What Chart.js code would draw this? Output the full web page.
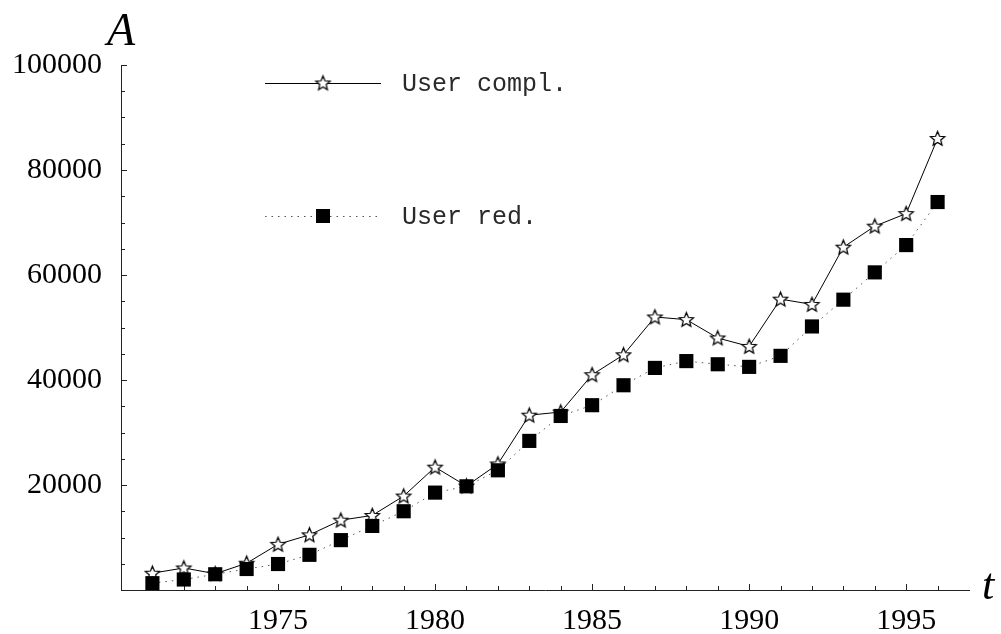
<!DOCTYPE html>
<html>
<head>
<meta charset="utf-8">
<script src="https://cdn.jsdelivr.net/npm/chart.js@4.4.1/dist/chart.umd.min.js"></script>
<style>
  html, body { margin: 0; padding: 0; background: #fff; }
  #wrap { width: 1001px; height: 634px; }
</style>
</head>
<body>
<div id="wrap"><canvas id="chart" width="1001" height="634"></canvas></div>
<script>
// === Data ===
const years = [1971, 1972, 1973, 1974, 1975, 1976, 1977, 1978, 1979, 1980, 1981, 1982, 1983,
               1984, 1985, 1986, 1987, 1988, 1989, 1990, 1991, 1992, 1993, 1994, 1995, 1996];
const userCompl = [3200, 4200, 3100, 5100, 8700, 10500, 13300, 14200, 17900, 23400, 19800, 24000, 33300,
                   33900, 41000, 44800, 52000, 51500, 48000, 46400, 55400, 54400, 65300, 69300, 71700, 86000];
const userRed = [1300, 2000, 3000, 4000, 4950, 6700, 9500, 12200, 15000, 18550, 19750, 22800, 28400,
                 33150, 35200, 39000, 42300, 43600, 43000, 42500, 44600, 50200, 55300, 60500, 65700, 73900];
const xTickLabels = [1975, 1980, 1985, 1990, 1995];
const yTickLabels = [20000, 40000, 60000, 80000, 100000];
const seriesNames = ['User compl.', 'User red.'];

const SERIF = "'Liberation Serif', 'DejaVu Serif', serif";
const MONO = "'Liberation Mono', 'DejaVu Sans Mono', monospace";
const AXIS = '#222';

// open star marker
function makeStar(r) {
  const s = Math.ceil(2 * r + 4);
  const c = document.createElement('canvas');
  c.width = s; c.height = s;
  const g = c.getContext('2d');
  g.translate(s / 2, s / 2 + 0.5);
  g.beginPath();
  for (let i = 0; i < 10; i++) {
    const a = -Math.PI / 2 + i * Math.PI / 5;
    const rr = i % 2 ? r * 0.45 : r;
    g.lineTo(rr * Math.cos(a), rr * Math.sin(a));
  }
  g.closePath();
  g.fillStyle = '#fff';
  g.fill();
  g.lineWidth = 1.25;
  g.strokeStyle = '#000';
  g.stroke();
  return c;
}
const starImg = makeStar(7.5);

const toPoints = arr => years.map((y, i) => ({ x: y, y: arr[i] }));

// tick marks drawn inside, plus legend and axis letters
const decor = {
  id: 'decor',
  beforeDatasetsDraw(chart) {
    const { ctx, scales: { x, y } } = chart;
    ctx.save();
    ctx.strokeStyle = AXIS;
    ctx.lineWidth = 1;
    ctx.beginPath();
    x.ticks.forEach(t => {
      if (t.value <= x.min || t.value >= x.max) return;
      const px = Math.round(x.getPixelForValue(t.value)) + 0.5;
      const len = t.value % 5 === 0 ? 6 : 4;
      ctx.moveTo(px, y.bottom);
      ctx.lineTo(px, y.bottom - len);
    });
    y.ticks.forEach(t => {
      if (t.value <= y.min) return;
      const py = Math.round(y.getPixelForValue(t.value)) + 0.5;
      const len = t.value % 20000 === 0 ? 6 : 4;
      ctx.moveTo(x.left, py);
      ctx.lineTo(x.left + len, py);
    });
    ctx.stroke();
    ctx.restore();
  },
  afterDraw(chart) {
    const { ctx, chartArea: a } = chart;
    ctx.save();
    // axis letters
    ctx.fillStyle = '#000';
    ctx.font = 'italic 46px ' + SERIF;
    ctx.textAlign = 'left';
    ctx.textBaseline = 'alphabetic';
    ctx.fillText('A', a.left - 14, 45);
    ctx.font = 'italic 44px ' + SERIF;
    ctx.fillText('t', a.right + 13, a.bottom + 9);

    // legend
    const lx0 = a.left + 144, lx1 = a.left + 260, mx = a.left + 202;
    const rows = [a.top + 18, a.top + 151];
    ctx.lineWidth = 1;
    ctx.strokeStyle = '#000';
    ctx.beginPath();
    ctx.moveTo(lx0, rows[0] + 0.5);
    ctx.lineTo(lx1, rows[0] + 0.5);
    ctx.stroke();
    ctx.drawImage(starImg, mx - starImg.width / 2, rows[0] - starImg.height / 2);

    ctx.strokeStyle = '#555';
    ctx.setLineDash([1.5, 5]);
    ctx.beginPath();
    ctx.moveTo(lx0, rows[1] + 0.5);
    ctx.lineTo(lx1, rows[1] + 0.5);
    ctx.stroke();
    ctx.setLineDash([]);
    ctx.fillStyle = '#000';
    ctx.fillRect(mx - 7, rows[1] - 7, 14, 14);

    ctx.fillStyle = '#2a2a2a';
    ctx.font = '25px ' + MONO;
    ctx.textBaseline = 'middle';
    seriesNames.forEach((n, i) => ctx.fillText(n, lx1 + 21, rows[i] + 1));
    ctx.restore();
  }
};

const ctx = document.getElementById('chart').getContext('2d');
new Chart(ctx, {
  type: 'line',
  data: {
    datasets: [
      {
        label: seriesNames[1],
        data: toPoints(userRed),
        borderColor: '#555',
        borderWidth: 1,
        borderDash: [1.5, 5],
        pointStyle: 'rect',
        pointRadius: 10,
        pointBorderWidth: 0,
        pointBackgroundColor: '#000',
        tension: 0,
        fill: false,
        order: 0
      },
      {
        label: seriesNames[0],
        data: toPoints(userCompl),
        borderColor: '#000',
        borderWidth: 1,
        pointStyle: starImg,
        pointRadius: 8,
        tension: 0,
        fill: false,
        order: 1
      }
    ]
  },
  options: {
    responsive: false,
    animation: false,
    events: [],
    layout: { padding: { top: 65, right: 32, left: 0, bottom: 0 } },
    plugins: { legend: { display: false }, tooltip: { enabled: false } },
    scales: {
      x: {
        type: 'linear',
        min: 1970,
        max: 1997,
        grid: { display: false, drawTicks: false },
        border: { display: true, color: AXIS, width: 1 },
        ticks: {
          stepSize: 1,
          autoSkip: false,
          maxRotation: 0,
          padding: 13,
          color: '#000',
          font: { family: SERIF, size: 30 },
          callback: v => xTickLabels.includes(v) ? String(v) : ''
        },
        afterFit: s => { s.height = 44; }
      },
      y: {
        min: 0,
        max: 100000,
        grid: { display: false, drawTicks: false },
        border: { display: true, color: AXIS, width: 1 },
        ticks: {
          stepSize: 5000,
          autoSkip: false,
          padding: 19,
          color: '#000',
          font: { family: SERIF, size: 30 },
          callback: v => yTickLabels.includes(v) ? String(v) : ''
        },
        afterFit: s => { s.width = 121; }
      }
    }
  },
  plugins: [decor]
});
</script>
</body>
</html>
